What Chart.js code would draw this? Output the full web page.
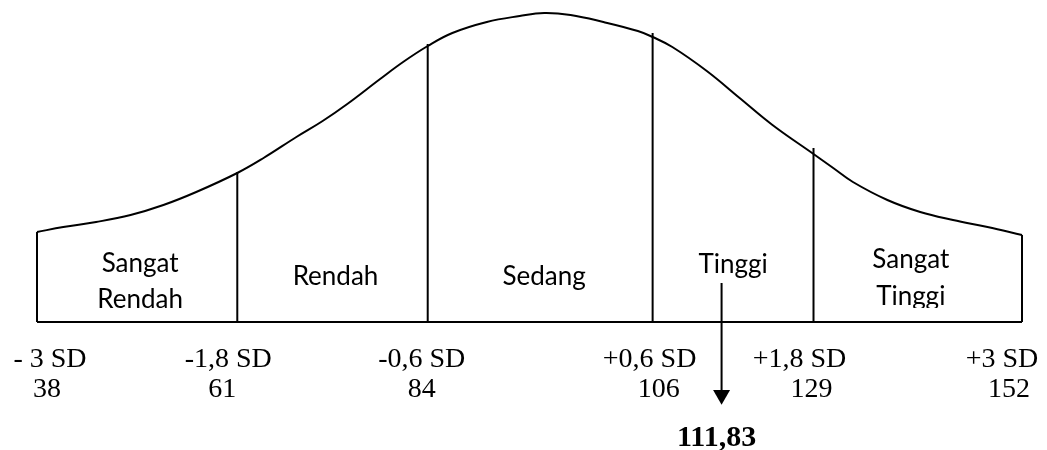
<!DOCTYPE html>
<html lang="id">
<head>
    <meta charset="UTF-8">
    <title>Kurva Normal Kategori Skor</title>
    <style>
        body {
            margin: 0;
            background-color: #fff;
        }
        #curve {
            display: block;
        }
    </style>
    <script src="https://cdn.jsdelivr.net/npm/chart.js"></script>
</head>
<body>
    <canvas id="curve" width="1047" height="450"></canvas>

    <script>
        // Data
        // boundary positions along the axis (SD units, as drawn)
        const boundaryPos = [-3, -1.78, -0.62, 0.75, 1.73, 3];
        const boundaryTop = [90, 150, 278, 289, 174, 87];
        const sdLabels = ['- 3 SD', '-1,8 SD', '-0,6 SD', '+0,6 SD', '+1,8 SD', '+3 SD'];
        const rawScores = ['38', '61', '84', '106', '129', '152'];
        const categories = [['Sangat', 'Rendah'], ['Rendah'], ['Sedang'], ['Tinggi'], ['Sangat', 'Tinggi']];

        // bell curve outline
        const curveX = [-3, -2.84, -2.64, -2.43, -2.23, -2.03, -1.78, -1.62, -1.42, -1.26, -1.11, -0.91,
                        -0.77, -0.62, -0.47, -0.26, -0.06, 0.09, 0.25, 0.45, 0.66, 0.75, 0.87, 1.08,
                        1.28, 1.48, 1.73, 1.85, 1.97, 2.18, 2.38, 2.58, 2.79, 3];
        const curveY = [90, 95, 100, 107, 117, 130, 149, 164, 185, 201, 218, 243,
                        260, 276, 289, 300, 306, 309, 307, 300, 291, 285, 275, 251,
                        224, 197, 168, 154, 140, 122, 110, 102, 95, 87];

        // observed score
        const scoreLabel = '111,83';
        const scorePos = 1.17;

        const black = '#000';

        function lineSet(points) {
            return {
                type: 'line',
                data: points,
                borderColor: black,
                borderWidth: 2,
                pointRadius: 0,
                fill: false,
                clip: false,
                tension: 0
            };
        }

        const datasets = [];

        // curve
        datasets.push(Object.assign(lineSet(curveX.map((x, i) => ({ x: x, y: curveY[i] }))), {
            tension: 0.4
        }));

        // baseline
        datasets.push(lineSet([{ x: boundaryPos[0], y: 0 }, { x: boundaryPos[boundaryPos.length - 1], y: 0 }]));

        // vertical boundaries
        boundaryPos.forEach((x, i) => {
            datasets.push(lineSet([{ x: x, y: 0 }, { x: x, y: boundaryTop[i] }]));
        });

        // arrow shaft + head
        datasets.push(lineSet([{ x: scorePos, y: 39 }, { x: scorePos, y: -69 }]));
        datasets.push({
            type: 'scatter',
            data: [{ x: scorePos, y: -73 }],
            pointStyle: 'triangle',
            rotation: 180,
            pointRadius: 9.8,
            backgroundColor: black,
            borderColor: black,
            borderWidth: 0,
            clip: false
        });

        // text drawn through the scales
        const sdOffset = [13, -9, -6, -3, -14, -20];
        const numOffset = [10, -15, -6, 6, -2, -13];
        const catOffset = [3, 3, 4, 0, -7];
        const catBaselines = [[272, 308], [285], [285], [273], [268, 305]];

        const textPlugin = {
            id: 'labels',
            afterDraw(chart) {
                const ctx = chart.ctx;
                const xs = chart.scales.x;
                const ys = chart.scales.y;
                ctx.save();
                ctx.fillStyle = black;
                ctx.textAlign = 'center';
                ctx.textBaseline = 'alphabetic';

                // SD and raw score labels
                ctx.font = '28px "Liberation Serif", "Times New Roman", serif';
                boundaryPos.forEach((x, i) => {
                    const px = xs.getPixelForValue(x);
                    ctx.fillText(sdLabels[i], px + sdOffset[i], ys.getPixelForValue(-45));
                    ctx.fillText(rawScores[i], px + numOffset[i], ys.getPixelForValue(-75));
                });

                // score value
                ctx.font = 'bold 30px "Liberation Serif", "Times New Roman", serif';
                ctx.fillText(scoreLabel, xs.getPixelForValue(scorePos) - 5, ys.getPixelForValue(-124));

                // category names (descenders cut at the bottom like the original)
                ctx.save();
                ctx.beginPath();
                ctx.rect(0, 0, chart.width, ys.getPixelForValue(14));
                ctx.clip();
                ctx.font = '26px Lato, "Open Sans", sans-serif';
                categories.forEach((lines, i) => {
                    const mid = (xs.getPixelForValue(boundaryPos[i]) + xs.getPixelForValue(boundaryPos[i + 1])) / 2;
                    lines.forEach((t, j) => {
                        ctx.fillText(t, mid + catOffset[i], catBaselines[i][j]);
                    });
                });
                ctx.restore();

                ctx.restore();
            }
        };

        new Chart(document.getElementById('curve').getContext('2d'), {
            type: 'line',
            data: { datasets: datasets },
            options: {
                responsive: false,
                animation: false,
                layout: { autoPadding: false, padding: { left: 37, right: 25, top: 0, bottom: 0 } },
                plugins: {
                    legend: { display: false },
                    tooltip: { enabled: false }
                },
                scales: {
                    x: { type: 'linear', min: -3, max: 3, display: false },
                    y: { type: 'linear', min: -128, max: 322, display: false }
                }
            },
            plugins: [textPlugin]
        });
    </script>
</body>
</html>
